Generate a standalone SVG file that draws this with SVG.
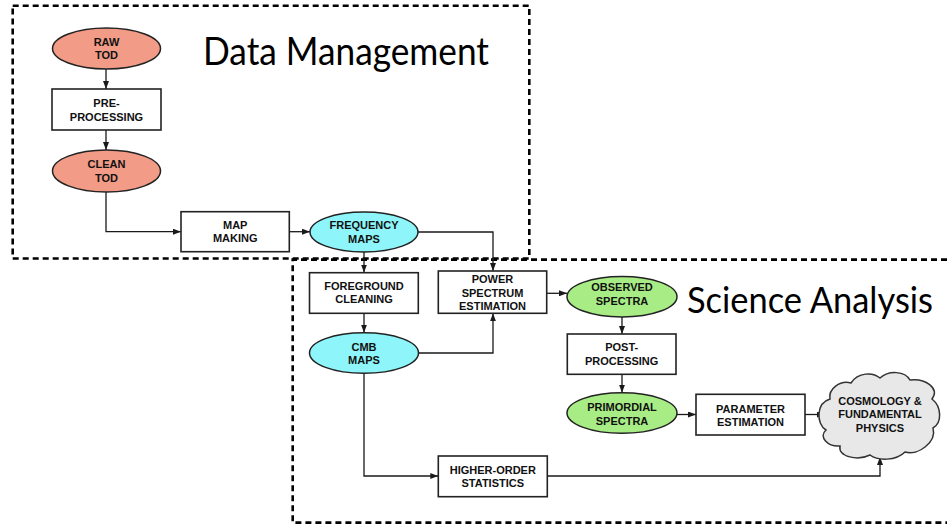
<svg xmlns="http://www.w3.org/2000/svg" width="947" height="527" viewBox="0 0 947 527">
<defs>
<marker id="ah" markerWidth="8" markerHeight="6" refX="8" refY="3" orient="auto" markerUnits="userSpaceOnUse">
<path d="M0,0 L8,3 L0,6 Z" fill="#1a1a1a"/>
</marker>
<style>
.box{fill:#fff;stroke:#222;stroke-width:1.6}
.red{fill:#f29b86;stroke:#222;stroke-width:1.5}
.cyan{fill:#8ef6fa;stroke:#222;stroke-width:1.5}
.green{fill:#a8ec86;stroke:#222;stroke-width:1.5}
.cloud{fill:#e8e8e8;stroke:#333;stroke-width:1.5}
.t{font-family:"Liberation Sans",Arial,sans-serif;font-weight:bold;font-size:11px;fill:#111;text-anchor:middle}
.title{font-family:Lato,"Open Sans",sans-serif;font-size:38px;fill:#000}
.region{fill:none;stroke:#000;stroke-width:2.6;stroke-dasharray:6 4}
.c{fill:none;stroke:#1a1a1a;stroke-width:1.3;marker-end:url(#ah)}
</style>
</defs>
<rect width="947" height="527" fill="#fff"/>

<g id="regions">
<rect class="region" x="12.7" y="5.7" width="516.6" height="252.8"/>
<path class="region" d="M947,259.6 H292.7 V522.6 H947"/>
<text class="title" x="203" y="65" textLength="286" lengthAdjust="spacingAndGlyphs">Data Management</text>
<text class="title" x="687" y="313" style="font-size:36px" textLength="246" lengthAdjust="spacingAndGlyphs">Science Analysis</text>
</g>

<g id="connectors">
<path class="c" d="M106,69 V89"/>
<path class="c" d="M106,130 V150"/>
<path class="c" d="M106,192 V231.7 H181"/>
<path class="c" d="M289,231.7 H310"/>
<path class="c" d="M364,252 V272.5"/>
<path class="c" d="M418,232 H493 V271"/>
<path class="c" d="M364,313.3 V332.7"/>
<path class="c" d="M418,353 H493 V313.3"/>
<path class="c" d="M547,293.3 H567"/>
<path class="c" d="M622,316.7 V334"/>
<path class="c" d="M622,374.3 V392.7"/>
<path class="c" d="M677,414.5 H696"/>
<path class="c" d="M805,414.5 H825"/>
<path class="c" d="M364,373.3 V476 H438.3"/>
<path class="c" d="M547.3,476 H880 V457"/>
</g>

<g id="raw-tod">
<ellipse class="red" cx="106.5" cy="48.5" rx="54" ry="20.5"/>
<text class="t" x="106.5" y="45.8">RAW</text>
<text class="t" x="106.5" y="59.3">TOD</text>
</g>
<g id="pre-processing">
<rect class="box" x="52" y="89" width="109" height="41"/>
<text class="t" x="106.5" y="107.2">PRE-</text>
<text class="t" x="106.5" y="120.7">PROCESSING</text>
</g>
<g id="clean-tod">
<ellipse class="red" cx="106.5" cy="171" rx="54" ry="21"/>
<text class="t" x="106.5" y="168.3">CLEAN</text>
<text class="t" x="106.5" y="181.8">TOD</text>
</g>
<g id="map-making">
<rect class="box" x="181" y="211.7" width="108.3" height="40"/>
<text class="t" x="235.2" y="228.5">MAP</text>
<text class="t" x="235.2" y="242.3">MAKING</text>
</g>
<g id="frequency-maps">
<ellipse class="cyan" cx="364" cy="232" rx="54" ry="20"/>
<text class="t" x="364" y="229">FREQUENCY</text>
<text class="t" x="364" y="242.5">MAPS</text>
</g>
<g id="foreground-cleaning">
<rect class="box" x="309.5" y="272.7" width="108.8" height="40.6"/>
<text class="t" x="364" y="289.5">FOREGROUND</text>
<text class="t" x="364" y="303.3">CLEANING</text>
</g>
<g id="power-spectrum">
<rect class="box" x="438.3" y="271" width="108.4" height="42.3"/>
<text class="t" x="492.5" y="283.3">POWER</text>
<text class="t" x="492.5" y="296.8">SPECTRUM</text>
<text class="t" x="492.5" y="310.3">ESTIMATION</text>
</g>
<g id="cmb-maps">
<ellipse class="cyan" cx="364" cy="353" rx="54.5" ry="20.3"/>
<text class="t" x="364" y="350.8">CMB</text>
<text class="t" x="364" y="364.3">MAPS</text>
</g>
<g id="observed-spectra">
<ellipse class="green" cx="622" cy="296.7" rx="55" ry="20.3"/>
<text class="t" x="622" y="291.3">OBSERVED</text>
<text class="t" x="622" y="304.8">SPECTRA</text>
</g>
<g id="post-processing">
<rect class="box" x="567.3" y="334" width="108.7" height="40.3"/>
<text class="t" x="621.7" y="351">POST-</text>
<text class="t" x="621.7" y="364.5">PROCESSING</text>
</g>
<g id="primordial-spectra">
<ellipse class="green" cx="622" cy="413" rx="55" ry="20.3"/>
<text class="t" x="622" y="411.2">PRIMORDIAL</text>
<text class="t" x="622" y="424.7">SPECTRA</text>
</g>
<g id="parameter-estimation">
<rect class="box" x="696" y="394.3" width="109" height="40.7"/>
<text class="t" x="750.5" y="412.5">PARAMETER</text>
<text class="t" x="750.5" y="426">ESTIMATION</text>
</g>
<g id="cosmology">
<path class="cloud" d="M826,430 C816,424 816,403 830,399 C828,389 840,380 851,383 C858,372 873,372 880,378 C889,370 905,371 910,380 C925,378 940,388 932,399 C942,407 942,423 933,428 C937,442 918,456 905,452 C896,461 878,461 870,455 C858,461 838,457 840,446 C828,447 818,437 826,430 Z"/>
<text class="t" x="880" y="404.7">COSMOLOGY &amp;</text>
<text class="t" x="880" y="418.2">FUNDAMENTAL</text>
<text class="t" x="880" y="431.7">PHYSICS</text>
</g>
<g id="higher-order-statistics">
<rect class="box" x="438.3" y="456" width="109" height="40.7"/>
<text class="t" x="492.8" y="473.6">HIGHER-ORDER</text>
<text class="t" x="492.8" y="487.1">STATISTICS</text>
</g>
</svg>
